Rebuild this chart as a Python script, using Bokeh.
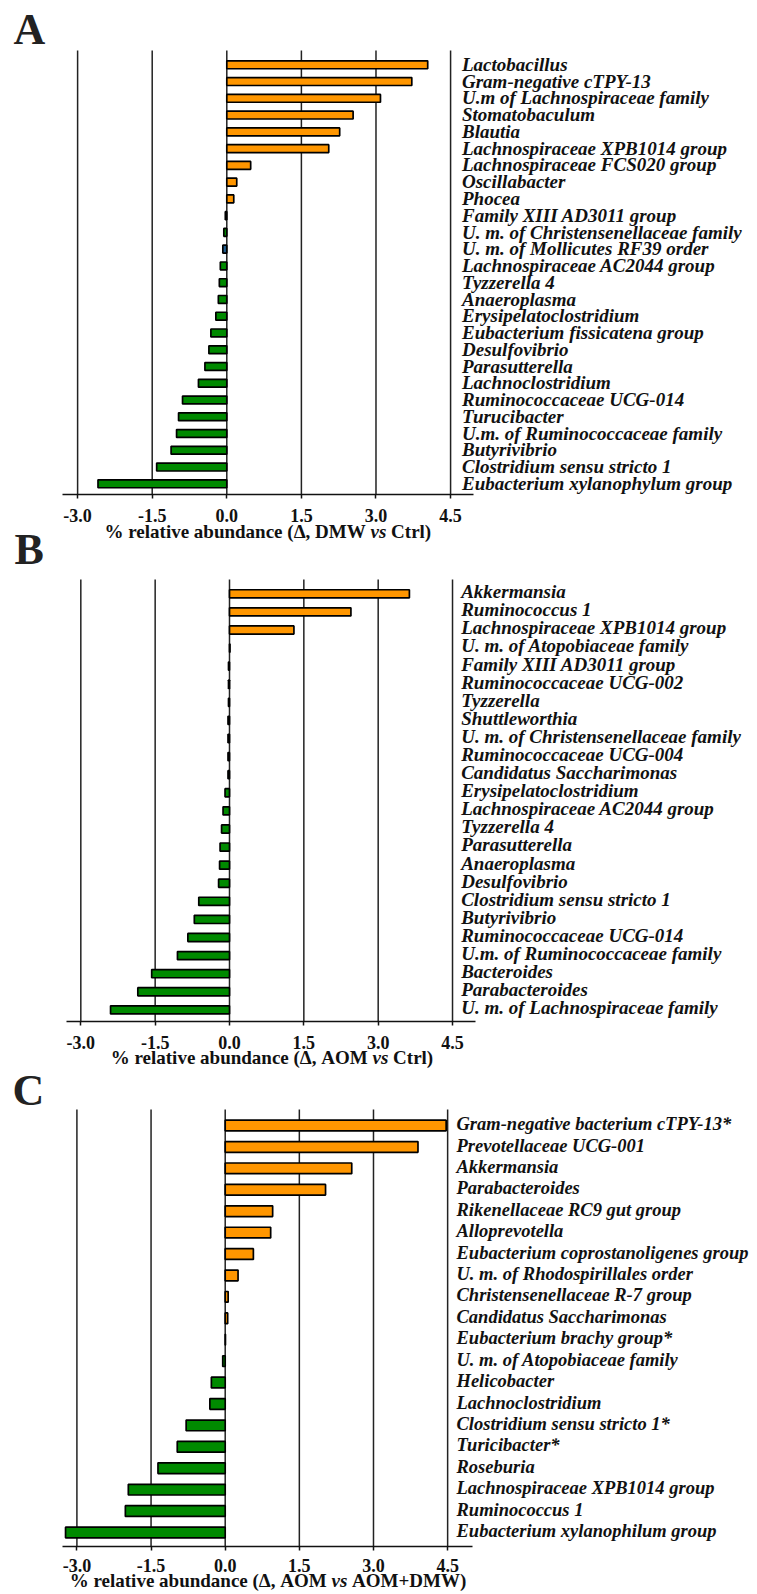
from bokeh.plotting import figure
from bokeh.models import Range1d, LinearAxis, FixedTicker, PrintfTickFormatter
from bokeh.core.properties import value
from bokeh.embed import file_html
from bokeh.resources import INLINE

ticks = [-3.0, -1.5, 0.0, 1.5, 3.0, 4.5]

a_names = ["Lactobacillus", "Gram-negative cTPY-13", "U.m of Lachnospiraceae family",
           "Stomatobaculum", "Blautia", "Lachnospiraceae XPB1014 group",
           "Lachnospiraceae FCS020 group", "Oscillabacter", "Phocea",
           "Family XIII AD3011 group", "U. m. of Christensenellaceae family",
           "U. m. of Mollicutes RF39 order", "Lachnospiraceae AC2044 group",
           "Tyzzerella 4", "Anaeroplasma", "Erysipelatoclostridium",
           "Eubacterium fissicatena group", "Desulfovibrio", "Parasutterella",
           "Lachnoclostridium", "Ruminococcaceae UCG-014", "Turucibacter",
           "U.m. of Ruminococcaceae family", "Butyrivibrio",
           "Clostridium sensu stricto 1", "Eubacterium xylanophylum group"]
a_values = [4.04, 3.72, 3.09, 2.54, 2.27, 2.05, 0.48, 0.20, 0.14, -0.03, -0.06,
            -0.08, -0.13, -0.15, -0.17, -0.22, -0.32, -0.36, -0.44, -0.57,
            -0.89, -0.97, -1.01, -1.12, -1.41, -2.59]

b_names = ["Akkermansia", "Ruminococcus 1", "Lachnospiraceae XPB1014 group",
           "U. m. of Atopobiaceae family", "Family XIII AD3011 group",
           "Ruminococcaceae UCG-002", "Tyzzerella", "Shuttleworthia",
           "U. m. of Christensenellaceae family", "Ruminococcaceae UCG-004",
           "Candidatus Saccharimonas", "Erysipelatoclostridium",
           "Lachnospiraceae AC2044 group", "Tyzzerella 4", "Parasutterella",
           "Anaeroplasma", "Desulfovibrio", "Clostridium sensu stricto 1",
           "Butyrivibrio", "Ruminococcaceae UCG-014",
           "U.m. of Ruminococcaceae family", "Bacteroides", "Parabacteroides",
           "U. m. of Lachnospiraceae family"]
b_values = [3.63, 2.45, 1.30, 0.01, -0.02, -0.02, -0.02, -0.03, -0.03, -0.03,
            -0.03, -0.09, -0.13, -0.16, -0.19, -0.20, -0.22, -0.62, -0.71,
            -0.84, -1.05, -1.57, -1.85, -2.40]

c_names = ["Gram-negative bacterium cTPY-13*", "Prevotellaceae UCG-001",
           "Akkermansia", "Parabacteroides", "Rikenellaceae RC9 gut group",
           "Alloprevotella", "Eubacterium coprostanoligenes group",
           "U. m. of Rhodospirillales order", "Christensenellaceae R-7 group",
           "Candidatus Saccharimonas", "Eubacterium brachy group*",
           "U. m. of Atopobiaceae family", "Helicobacter", "Lachnoclostridium",
           "Clostridium sensu stricto 1*", "Turicibacter*", "Roseburia",
           "Lachnospiraceae XPB1014 group", "Ruminococcus 1",
           "Eubacterium xylanophilum group"]
c_values = [4.47, 3.90, 2.56, 2.03, 0.96, 0.92, 0.57, 0.26, 0.06, 0.05, 0.005,
            -0.05, -0.28, -0.31, -0.79, -0.97, -1.36, -1.96, -2.02, -3.23]

a_title = ("% relative abundance (\u0394, DMW", "vs", "Ctrl)")
b_title = ("% relative abundance (\u0394, AOM", "vs", "Ctrl)")
c_title = ("% relative abundance (\u0394, AOM", "vs", "AOM+DMW)")

POS = "#FF9600"
NEG = "#008A00"
SPECIAL = "#1F5C8C"
special_names = ["U. m. of Mollicutes RF39 order"]

SERIF = value("Liberation Serif")
W, H = 757, 1592

# one canvas; default ranges are page pixels (y pointing down)
p = figure(width=W, height=H,
           x_range=Range1d(0, W), y_range=Range1d(H, 0),
           output_backend="svg", toolbar_location=None,
           x_axis_location=None, y_axis_location=None,
           min_border=0, outline_line_color=None)
for g in p.grid:
    g.visible = False


def panel(key, letter, names, vals, title, cfg):
    x0, xs, r0, s = cfg["x0"], cfg["xs"], cfg["r0"], cfg["s"]

    def X(xw):
        return (xw - x0) / xs

    def Y(yw):
        return (yw - r0) / s

    xn, yn = "x" + key, "y" + key
    p.extra_x_ranges[xn] = Range1d(X(0), X(W))
    p.extra_y_ranges[yn] = Range1d(Y(H), Y(0))
    rn = dict(x_range_name=xn, y_range_name=yn)

    n = len(names)
    rows = list(range(n))

    # grid lines at the tick positions
    p.segment(x0=ticks, y0=[Y(cfg["plot_top"])] * len(ticks),
              x1=ticks, y1=[Y(cfg["axis_y"])] * len(ticks),
              line_color="#222222", line_width=1.5, **rn)

    colors = [SPECIAL if nm in special_names else (POS if v >= 0 else NEG)
              for nm, v in zip(names, vals)]
    p.hbar(y=rows, left=0, right=vals, height=cfg["bh"],
           fill_color=colors, line_color="black", line_width=1.7, **rn)

    p.text(x=[X(cfg["label_x"])] * n, y=rows, text=names,
           text_font=SERIF, text_font_style="bold italic",
           text_font_size=cfg["fs"], text_color="#111111",
           text_baseline="alphabetic", text_align="left",
           y_offset=cfg["label_dy"], **rn)

    ax = LinearAxis(fixed_location=Y(cfg["axis_y"]),
                    bounds=(X(cfg["axis_l"]), X(cfg["axis_r"])),
                    ticker=FixedTicker(ticks=ticks, minor_ticks=[]),
                    formatter=PrintfTickFormatter(format="%.1f"),
                    major_tick_in=0, major_tick_out=4,
                    minor_tick_in=0, minor_tick_out=0,
                    axis_line_width=1.7, axis_line_color="#111111",
                    major_tick_line_width=1.5, major_tick_line_color="#111111",
                    major_label_text_font="Liberation Serif",
                    major_label_text_font_style="bold",
                    major_label_text_font_size="18px",
                    major_label_text_color="#111111",
                    major_label_standoff=cfg["standoff"], **rn)
    p.add_layout(ax, "below")

    # axis title, with an italic "vs" (page pixel coordinates)
    vs_left, tb = cfg["vs_left"], cfg["title_y"]
    common = dict(text_font=SERIF, text_font_size="19px",
                  text_color="#111111", text_baseline="alphabetic")
    p.text(x=[vs_left - 4.8], y=[tb], text=[title[0]],
           text_font_style="bold", text_align="right", **common)
    p.text(x=[vs_left], y=[tb], text=[title[1]],
           text_font_style="bold italic", text_align="left", **common)
    p.text(x=[vs_left + 15.8 + 4.8], y=[tb], text=[title[2]],
           text_font_style="bold", text_align="left", **common)

    # panel letter
    p.text(x=[cfg["letter_x"]], y=[cfg["letter_y"]], text=[letter],
           text_font=SERIF, text_font_style="bold", text_font_size="44px",
           text_color="#222222", text_baseline="alphabetic", text_align="left")


cfg_a = dict(x0=226.3, xs=49.73, r0=64.3, s=16.76,
             plot_top=50, axis_y=494, axis_l=62, axis_r=473, bh=0.47,
             label_x=461.5, label_dy=-0.4, fs="19px", standoff=10,
             vs_left=370, title_y=531, letter_x=13, letter_y=29)
cfg_b = dict(x0=229.0, xs=49.56, r0=593.3, s=18.09,
             plot_top=579, axis_y=1021, axis_l=66, axis_r=475, bh=0.45,
             label_x=460.7, label_dy=-2.1, fs="19px", standoff=10,
             vs_left=372, title_y=1057, letter_x=14, letter_y=549)
cfg_c = dict(x0=224.7, xs=49.43, r0=1125.0, s=21.42,
             plot_top=1109, axis_y=1546, axis_l=62, axis_r=472, bh=0.50,
             label_x=456, label_dy=-1.4, fs="18.5px", standoff=8,
             vs_left=331, title_y=1580, letter_x=12, letter_y=1090)

panel("a", "A", a_names, a_values, a_title, cfg_a)
panel("b", "B", b_names, b_values, b_title, cfg_b)
panel("c", "C", c_names, c_values, c_title, cfg_c)

open("out.html", "w").write(file_html(p, INLINE))
